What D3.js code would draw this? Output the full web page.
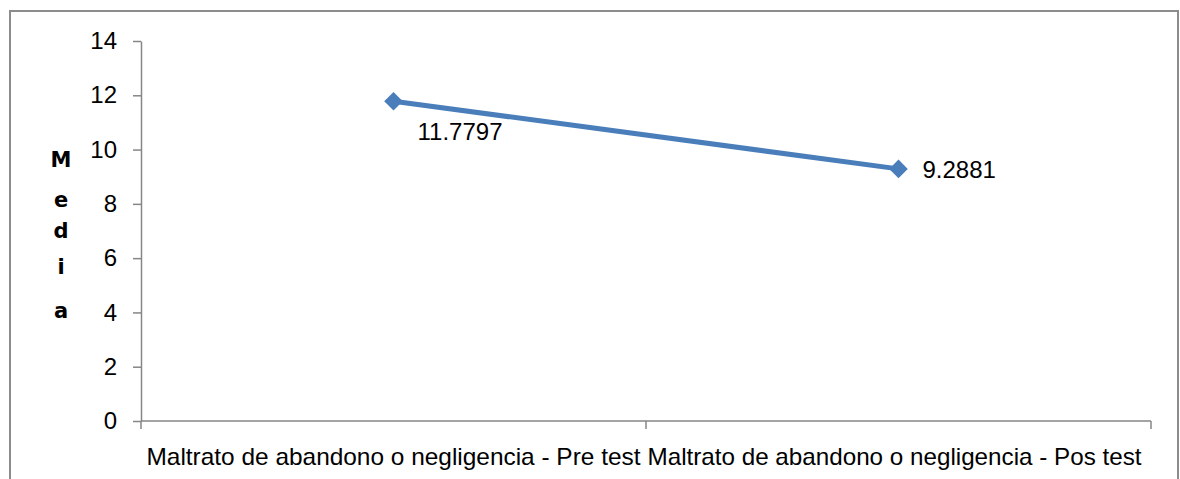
<!DOCTYPE html>
<html>
<head>
<meta charset="utf-8">
<script src="https://cdn.jsdelivr.net/npm/d3@7"></script>
<style>
  body { margin: 0; background: #fff; }
  svg { display: block; }
</style>
</head>
<body>
<svg id="chart" width="1180" height="479"></svg>
<script>
// chart values
const categories = ['Maltrato de abandono o negligencia - Pre test', 'Maltrato de abandono o negligencia - Pos test']
const means = [11.7797, 9.2881]
const yTicks = [0, 2, 4, 6, 8, 10, 12, 14]
const yTitle = 'Media'

const svg = d3.select('#chart')
const axisColor = '#868686'
const lineColor = '#4a7ebb'
const font = 'Liberation Sans, Arial, sans-serif'

// outer frame
svg.append('rect')
  .attr('x', 10).attr('y', 11)
  .attr('width', 1168).attr('height', 480)
  .attr('fill', 'none')
  .attr('stroke', '#8c8c8c')
  .attr('stroke-width', 2)

const x = d3.scaleBand().domain(categories).range([141, 1151])
const y = d3.scaleLinear().domain([0, 14]).range([421, 41])

// y axis
const yAxis = svg.append('g')
  .attr('transform', 'translate(141,0)')
  .call(d3.axisLeft(y).tickValues(yTicks).tickSize(8).tickSizeOuter(0).tickPadding(16))
yAxis.select('.domain').attr('stroke', axisColor).attr('stroke-width', 1.5)
yAxis.selectAll('.tick line').attr('stroke', axisColor).attr('stroke-width', 1.5)
yAxis.selectAll('.tick text')
  .attr('fill', '#000')
  .attr('x', -24)
  .style('font-family', font)
  .style('font-size', '24px')

// x axis: ticks at band boundaries
const xAxisG = svg.append('g').attr('transform', 'translate(0,421)')
xAxisG.append('line')
  .attr('x1', x.range()[0]).attr('x2', x.range()[1])
  .attr('stroke', axisColor).attr('stroke-width', 1.5)
const bounds = categories.map(c => x(c)).concat([x.range()[1]])
xAxisG.selectAll('line.tk')
  .data(bounds)
  .enter()
  .append('line')
  .attr('class', 'tk')
  .attr('x1', d => d).attr('x2', d => d)
  .attr('y1', 0).attr('y2', 8)
  .attr('stroke', axisColor).attr('stroke-width', 1.5)

xAxisG.selectAll('text')
  .data(categories)
  .enter()
  .append('text')
  .attr('x', (d, i) => x(d) + x.bandwidth() / 2 - i * 4)
  .attr('y', 44)
  .attr('text-anchor', 'middle')
  .attr('textLength', 494)
  .attr('lengthAdjust', 'spacingAndGlyphs')
  .style('font-family', font)
  .style('font-size', '24px')
  .text(d => d)

// vertical axis title, one letter per line
const letterY = [160, 200, 231, 267, 311]
svg.append('g').selectAll('text')
  .data(yTitle.split(''))
  .enter()
  .append('text')
  .attr('x', 61)
  .attr('y', (d, i) => letterY[i])
  .attr('dy', '0.35em')
  .attr('text-anchor', 'middle')
  .style('font-family', 'DejaVu Sans, sans-serif')
  .style('font-weight', 'bold')
  .style('font-size', '21px')
  .text(d => d)

// series
const pts = categories.map((c, i) => ({ c: c, v: means[i] }))
const cx = d => x(d.c) + x.bandwidth() / 2

svg.append('path')
  .datum(pts)
  .attr('fill', 'none')
  .attr('stroke', lineColor)
  .attr('stroke-width', 5)
  .attr('d', d3.line().x(cx).y(d => y(d.v)))

svg.selectAll('path.marker')
  .data(pts)
  .enter()
  .append('path')
  .attr('class', 'marker')
  .attr('d', d3.symbol().type(d3.symbolDiamond2).size(220))
  .attr('transform', d => `translate(${cx(d)},${y(d.v)})`)
  .attr('fill', lineColor)

// data labels
const labelDy = [30, 1]
svg.selectAll('text.lbl')
  .data(pts)
  .enter()
  .append('text')
  .attr('class', 'lbl')
  .attr('x', d => cx(d) + 24)
  .attr('y', (d, i) => y(d.v) + labelDy[i])
  .attr('dy', '0.35em')
  .style('font-family', font)
  .style('font-size', '24px')
  .text(d => d.v)
</script>
</body>
</html>
